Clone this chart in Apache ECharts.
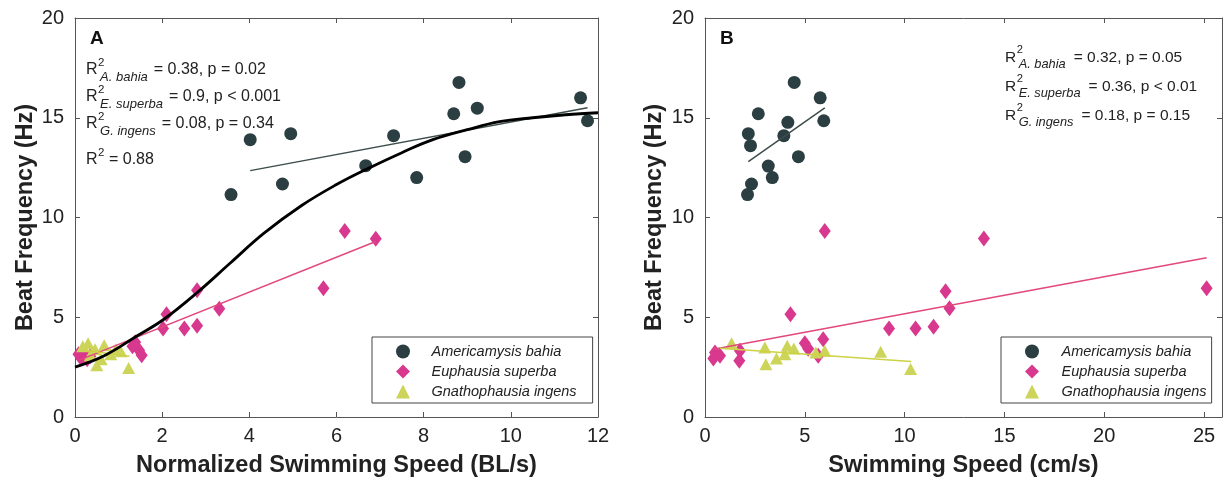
<!DOCTYPE html>
<html><head><meta charset="utf-8">
<script src="https://cdn.jsdelivr.net/npm/echarts@6/dist/echarts.min.js"></script>
<style>html,body{margin:0;padding:0;background:#fff}#c{width:1225px;height:485px}</style>
</head><body><div id="c"></div>
<script>
// ---------- data ----------
const speciesNames = ['Americamysis bahia', 'Euphausia superba', 'Gnathophausia ingens'];
// Panel A: normalized swimming speed (BL/s) vs beat frequency (Hz)
const bahiaA_x = [3.58, 4.02, 4.76, 4.95, 6.67, 7.31, 7.84, 8.69, 8.81, 8.95, 9.23, 11.6, 11.76];
const bahiaA_y = [11.15, 13.9, 11.68, 14.2, 12.6, 14.1, 12.0, 15.2, 16.77, 13.05, 15.48, 16.0, 14.85];
const superbaA_x = [6.19, 6.9, 5.7, 2.8, 3.31, 2.1, 2.8, 2.51, 2.02, 1.38, 1.32, 1.47, 1.53, 0.08, 0.14, 0.2, 0.28, 0.35];
const superbaA_y = [9.32, 8.93, 6.45, 6.35, 5.43, 5.15, 4.57, 4.43, 4.43, 3.75, 3.55, 3.35, 3.1, 3.15, 2.95, 3.05, 2.9, 3.05];
const ingensA_x = [0.18, 0.3, 0.46, 0.67, 0.5, 0.82, 1.05, 1.23, 0.35, 0.6, 0.94];
const ingensA_y = [3.55, 3.7, 3.4, 3.6, 2.6, 3.15, 3.3, 2.45, 3.1, 2.9, 3.4];
const fitBahiaA_x = [4.02, 11.76], fitBahiaA_y = [12.35, 15.5];
const fitSuperbaA_x = [0.1, 6.9], fitSuperbaA_y = [2.85, 8.8];
const fitIngensA_x = [0.2, 1.25], fitIngensA_y = [3.35, 3.05];
const curveA_x = [0, 0.67, 1.43, 2.04, 2.8, 3.57, 4.33, 5.2, 6.0, 6.67, 7.5, 8.21, 9.0, 9.74, 10.5, 11.26, 12];
const curveA_y = [2.5, 3.07, 4.07, 4.9, 6.23, 7.73, 9.2, 10.6, 11.65, 12.4, 13.25, 13.9, 14.4, 14.8, 15.0, 15.15, 15.25];
// Panel B: swimming speed (cm/s) vs beat frequency (Hz)
const bahiaB_x = [4.47, 5.77, 2.67, 5.95, 4.15, 2.17, 3.95, 2.28, 4.68, 3.17, 3.37, 2.33, 2.13];
const bahiaB_y = [16.77, 16.0, 15.2, 14.85, 14.77, 14.2, 14.1, 13.6, 13.05, 12.58, 12.0, 11.68, 11.15];
const superbaB_x = [6.0, 13.97, 25.13, 12.05, 12.25, 4.28, 11.45, 10.55, 9.22, 5.92, 5.0, 5.17, 5.67, 1.75, 1.72, 0.5, 0.75, 0.42];
const superbaB_y = [9.32, 8.95, 6.45, 6.3, 5.45, 5.15, 4.53, 4.43, 4.43, 3.9, 3.7, 3.42, 3.07, 3.32, 2.82, 3.23, 3.07, 2.93];
const ingensB_x = [1.33, 3.0, 4.12, 4.45, 3.05, 3.58, 4.0, 6.0, 5.55, 8.8, 10.3];
const ingensB_y = [3.7, 3.48, 3.57, 3.43, 2.65, 2.93, 3.15, 3.32, 3.23, 3.27, 2.4];
const fitBahiaB_x = [2.17, 6.0], fitBahiaB_y = [12.8, 15.5];
const fitSuperbaB_x = [0.42, 25.13], fitSuperbaB_y = [3.4, 7.98];
const fitIngensB_x = [0.75, 10.33], fitIngensB_y = [3.45, 2.78];
// tick settings / labels
const xTicksA = {min: 0, max: 12, interval: 2};
const xTicksB = {min: 0, max: 25.9, interval: 5};
const yTicks = {min: 0, max: 20, interval: 5};
const xTitleA = 'Normalized Swimming Speed (BL/s)';
const xTitleB = 'Swimming Speed (cm/s)';
const yTitle = 'Beat Frequency (Hz)';
const panelLabels = ['A', 'B'];
const statsA = [['A. bahia', '= 0.38, p = 0.02'], ['E. superba', '= 0.9, p < 0.001'], ['G. ingens', '= 0.08, p = 0.34']];
const statsA_total = '= 0.88';
const statsB = [['A. bahia', '= 0.32, p = 0.05'], ['E. superba', '= 0.36, p < 0.01'], ['G. ingens', '= 0.18, p = 0.15']];

// ---------- styling ----------
const FONT = "'Liberation Sans', Arial, sans-serif";
const C_BAHIA = '#2b3e41', C_SUPERBA = '#d8388d', C_INGENS = '#ccd55a';
const C_LINE_BAHIA = '#3e4c4c', C_LINE_SUPERBA = '#e2487c', C_LINE_INGENS = '#cdd245';
const zip = (xs, ys) => xs.map((x, i) => [x, ys[i]]);

const axisLine = {show: true, onZero: false, lineStyle: {color: '#555', width: 1}};
const tick = {show: true, inside: true, length: 5, lineStyle: {color: '#555'}};
const lbl = {fontSize: 20, color: '#222', fontFamily: FONT};
const titleStyle = {fontSize: 23.5, fontWeight: 'bold', color: '#222', fontFamily: FONT};
function xAxes(gi, t, title) {
  return [{
    type: 'value', gridIndex: gi, min: t.min, max: t.max, interval: t.interval, position: 'bottom',
    axisLine, axisTick: tick, splitLine: {show: false},
    axisLabel: Object.assign({margin: 9, formatter: v => (Math.abs(v / t.interval - Math.round(v / t.interval)) < 1e-6 ? String(v) : '')}, lbl),
    name: title, nameLocation: 'middle', nameGap: 37, nameTextStyle: titleStyle
  }, {
    type: 'value', gridIndex: gi, min: t.min, max: t.max, interval: t.interval, position: 'top',
    axisLine, axisTick: tick, splitLine: {show: false}, axisLabel: {show: false}
  }];
}
function yAxes(gi, gap) {
  return [{
    type: 'value', gridIndex: gi, min: yTicks.min, max: yTicks.max, interval: yTicks.interval, position: 'left',
    axisLine, axisTick: tick, splitLine: {show: false}, axisLabel: Object.assign({margin: 11}, lbl),
    name: yTitle, nameLocation: 'middle', nameGap: gap, nameRotate: 90, nameTextStyle: titleStyle
  }, {
    type: 'value', gridIndex: gi, min: yTicks.min, max: yTicks.max, interval: yTicks.interval, position: 'right',
    axisLine, axisTick: tick, splitLine: {show: false}, axisLabel: {show: false}
  }];
}
function scat(name, xi, yi, data, sym, size, color) {
  return {type: 'scatter', name, xAxisIndex: xi, yAxisIndex: yi, data, symbol: sym, symbolSize: size,
    itemStyle: {color, opacity: 1}, z: 3, emphasis: {disabled: true}, silent: true};
}
function line(name, xi, yi, data, color, width, smooth) {
  return {type: 'line', name, xAxisIndex: xi, yAxisIndex: yi, data, showSymbol: false, smooth: smooth || false,
    lineStyle: {color, width}, z: 4, silent: true};
}

// ---------- annotation text (measured) ----------
const ctx = document.createElement('canvas').getContext('2d');
function tw(text, font) { ctx.font = font; return ctx.measureText(text).width; }
function statBlock(x0, yCenters, rows, fs, subFs, gap, total) {
  const els = [];
  const supFs = fs * 0.72;
  const rW = tw('R', `${fs}px ${FONT}`);
  const add = (x, y, text, size, italic) => els.push({type: 'text', left: x, top: y, z: 10, silent: true,
    style: {text, fill: '#222', font: `${italic ? 'italic ' : ''}${size}px ${FONT}`}});
  rows.forEach((r, i) => {
    const yc = yCenters[i];
    add(x0, yc - fs * 0.5, 'R', fs);
    add(x0 + rW + 0.5, yc - fs * 0.5 - supFs * 0.45, '2', supFs);
    add(x0 + rW + 2.5, yc + fs * 0.5 - subFs * 0.55, r[0], subFs, true);
    const sw = tw(r[0], `italic ${subFs}px ${FONT}`);
    add(x0 + rW + 2.5 + sw + gap, yc - fs * 0.5, r[1], fs);
  });
  if (total) {
    const yc = yCenters[rows.length];
    add(x0, yc - fs * 0.5, 'R', fs);
    add(x0 + rW + 0.5, yc - fs * 0.5 - supFs * 0.45, '2', supFs);
    add(x0 + rW + tw('2', `${supFs}px ${FONT}`) + 5, yc - fs * 0.5, total, fs);
  }
  return els;
}

const graphic = [
  {type: 'text', left: 90, top: 29, silent: true, style: {text: panelLabels[0], fill: '#111', font: `bold 19px ${FONT}`}},
  {type: 'text', left: 720, top: 29, silent: true, style: {text: panelLabels[1], fill: '#111', font: `bold 19px ${FONT}`}},
  ...statBlock(86, [70, 97, 124, 160], statsA, 16, 13, 6, statsA_total),
  ...statBlock(1005, [57, 86, 115], statsB, 15.5, 12.8, 8, null)
];

const legendCommon = {orient: 'vertical', itemWidth: 14, itemHeight: 14, itemGap: 5, borderColor: '#444', borderWidth: 1,
  backgroundColor: '#fff', selectedMode: false, data: speciesNames};
const legendText = pad => ({fontStyle: 'italic', fontSize: 14.5, color: '#222', fontFamily: FONT, padding: [0, 0, 0, pad]});

const option = {
  backgroundColor: '#fff',
  animation: false,
  grid: [
    {left: 75, right: 1225 - 598, top: 18, bottom: 485 - 417, containLabel: false},
    {left: 705, right: 1, top: 18, bottom: 485 - 417, containLabel: false}
  ],
  xAxis: [...xAxes(0, xTicksA, xTitleA), ...xAxes(1, xTicksB, xTitleB)],
  yAxis: [...yAxes(0, 35), ...yAxes(1, 38)],
  legend: [
    Object.assign({left: 372, top: 337, padding: [7, 16, 4, 24], textStyle: legendText(16.5)}, legendCommon),
    Object.assign({left: 1001, top: 337, padding: [7, 5, 4, 24], textStyle: legendText(17.5)}, legendCommon)
  ],
  graphic,
  series: [
    scat(speciesNames[0], 0, 0, zip(bahiaA_x, bahiaA_y), 'circle', 13, C_BAHIA),
    scat(speciesNames[1], 0, 0, zip(superbaA_x, superbaA_y), 'diamond', [12, 16], C_SUPERBA),
    scat(speciesNames[2], 0, 0, zip(ingensA_x, ingensA_y), 'triangle', [13, 12], C_INGENS),
    line('fitA1', 0, 0, zip(fitBahiaA_x, fitBahiaA_y), C_LINE_BAHIA, 1.5),
    line('fitA2', 0, 0, zip(fitSuperbaA_x, fitSuperbaA_y), C_LINE_SUPERBA, 1.5),
    line('fitA3', 0, 0, zip(fitIngensA_x, fitIngensA_y), C_LINE_INGENS, 1.5),
    line('curveA', 0, 0, zip(curveA_x, curveA_y), '#000', 2.8, 0.4),
    scat(speciesNames[0], 2, 2, zip(bahiaB_x, bahiaB_y), 'circle', 13, C_BAHIA),
    scat(speciesNames[1], 2, 2, zip(superbaB_x, superbaB_y), 'diamond', [12, 16], C_SUPERBA),
    scat(speciesNames[2], 2, 2, zip(ingensB_x, ingensB_y), 'triangle', [13, 12], C_INGENS),
    line('fitB1', 2, 2, zip(fitBahiaB_x, fitBahiaB_y), C_LINE_BAHIA, 1.5),
    line('fitB2', 2, 2, zip(fitSuperbaB_x, fitSuperbaB_y), C_LINE_SUPERBA, 1.5),
    line('fitB3', 2, 2, zip(fitIngensB_x, fitIngensB_y), C_LINE_INGENS, 1.5)
  ]
};
echarts.init(document.getElementById('c'), null, {renderer: 'canvas'}).setOption(option);
</script></body></html>
